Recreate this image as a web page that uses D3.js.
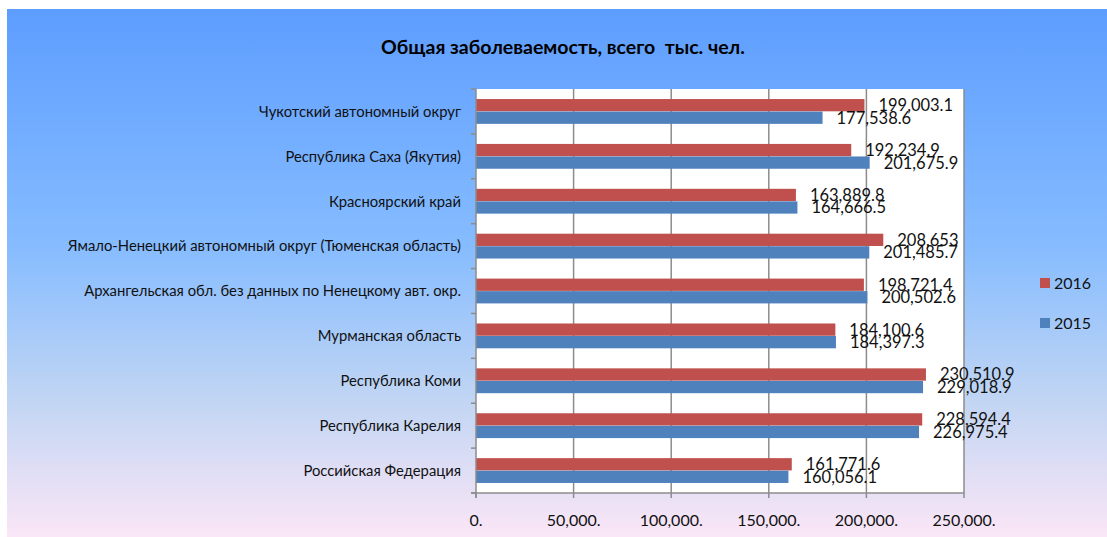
<!DOCTYPE html>
<html>
<head>
<meta charset="utf-8">
<script src="https://cdn.jsdelivr.net/npm/d3@7"></script>
<style>
  body { margin: 0; background: #fff; }
  svg { display: block; font-family: Lato, "Open Sans", sans-serif; }
</style>
</head>
<body>
<div id="chart"></div>
<script>
var categories = [
    "Чукотский автономный округ",
    "Республика Саха (Якутия)",
    "Красноярский край",
    "Ямало-Ненецкий автономный округ (Тюменская область)",
    "Архангельская обл. без данных по Ненецкому авт. окр.",
    "Мурманская область",
    "Республика Коми",
    "Республика Карелия",
    "Российская Федерация"
];
var values2016 = [199003.1, 192234.9, 163889.8, 208653, 198721.4, 184100.6, 230510.9, 228594.4, 161771.6];
var values2015 = [177538.6, 201675.9, 164666.5, 201485.7, 200502.6, 184397.3, 229018.9, 226975.4, 160056.1];
var seriesNames = ["2016", "2015"];
var xTicks = [0, 50000, 100000, 150000, 200000, 250000];
var title = "Общая заболеваемость, всего  тыс. чел.";

var W = 1107, H = 537;
var colors = {"2016": "#c0504d", "2015": "#4f81bd"};

var svg = d3.select("#chart").append("svg")
    .attr("width", W)
    .attr("height", H);

// background gradient
var grad = svg.append("defs").append("linearGradient")
    .attr("id", "bg")
    .attr("x1", 0).attr("y1", 0).attr("x2", 0).attr("y2", 1);
grad.append("stop").attr("offset", "0%").attr("stop-color", "#5d9dff");
grad.append("stop").attr("offset", "45%").attr("stop-color", "#86bcff");
grad.append("stop").attr("offset", "75%").attr("stop-color", "#c3d6f3");
grad.append("stop").attr("offset", "100%").attr("stop-color", "#fbe6f7");

svg.append("rect")
    .attr("x", 7).attr("y", 9)
    .attr("width", W - 7).attr("height", H - 9)
    .attr("fill", "url(#bg)");

var plot = {left: 476, right: 964, top: 89, bottom: 493};

var x = d3.scaleLinear()
    .domain([0, 250000])
    .range([plot.left, plot.right]);

var y = d3.scaleBand()
    .domain(categories)
    .range([plot.top, plot.bottom]);

var inner = d3.scaleBand()
    .domain(seriesNames)
    .range([0, y.bandwidth()])
    .paddingOuter(0.8)
    .paddingInner(0.02);

// plot area
svg.append("rect")
    .attr("x", plot.left).attr("y", plot.top)
    .attr("width", plot.right - plot.left)
    .attr("height", plot.bottom - plot.top)
    .attr("fill", "#fff");

// gridlines
svg.append("g")
    .selectAll("line")
    .data(xTicks.slice(1))
    .enter().append("line")
    .attr("x1", d => x(d)).attr("x2", d => x(d))
    .attr("y1", plot.top).attr("y2", plot.bottom)
    .attr("stroke", "#8c8c8c")
    .attr("stroke-width", 1.5);

// bars
var groups = svg.append("g")
    .selectAll("g")
    .data(categories)
    .enter().append("g")
    .attr("transform", d => "translate(0," + y(d) + ")");

var rows = function (i) {
    return [
        {name: "2016", value: values2016[i]},
        {name: "2015", value: values2015[i]}
    ];
};

groups.selectAll("rect")
    .data((d, i) => rows(i))
    .enter().append("rect")
    .attr("x", x(0))
    .attr("y", d => inner(d.name))
    .attr("width", d => x(d.value) - x(0))
    .attr("height", inner.bandwidth())
    .attr("fill", d => colors[d.name]);

var fmtVal = d3.format(",.1f");
var fmtLabel = function (v) {
    var s = fmtVal(v);
    return s.replace(/\.0$/, "");
};

groups.selectAll("text")
    .data((d, i) => rows(i))
    .enter().append("text")
    .attr("x", d => x(d.value) + 14)
    .attr("y", d => inner(d.name) + inner.bandwidth() / 2)
    .attr("dy", "0.36em")
    .attr("font-size", 16.5)
    .attr("fill", "#111")
    .text(d => fmtLabel(d.value));

// y axis
var yAxis = svg.append("g");
yAxis.append("line")
    .attr("x1", plot.left).attr("x2", plot.left)
    .attr("y1", plot.top).attr("y2", plot.bottom + 5)
    .attr("stroke", "#8c8c8c").attr("stroke-width", 1.5);
yAxis.selectAll(".tick")
    .data(categories.map(c => y(c)).concat([plot.bottom]))
    .enter().append("line")
    .attr("x1", plot.left - 5).attr("x2", plot.left)
    .attr("y1", d => d).attr("y2", d => d)
    .attr("stroke", "#8c8c8c").attr("stroke-width", 1.5);
yAxis.selectAll("text")
    .data(categories)
    .enter().append("text")
    .attr("x", plot.left - 15)
    .attr("y", d => y(d) + y.bandwidth() / 2)
    .attr("dy", "0.36em")
    .attr("text-anchor", "end")
    .attr("font-size", 14.8)
    .attr("fill", "#111")
    .text(d => d);

// x axis
var xAxis = svg.append("g");
xAxis.append("line")
    .attr("x1", plot.left - 5).attr("x2", plot.right)
    .attr("y1", plot.bottom).attr("y2", plot.bottom)
    .attr("stroke", "#8c8c8c").attr("stroke-width", 1.5);
xAxis.selectAll(".tick")
    .data(xTicks)
    .enter().append("line")
    .attr("x1", d => x(d)).attr("x2", d => x(d))
    .attr("y1", plot.bottom).attr("y2", plot.bottom + 5)
    .attr("stroke", "#8c8c8c").attr("stroke-width", 1.5);
var fmtTick = d3.format(",");
xAxis.selectAll("text")
    .data(xTicks)
    .enter().append("text")
    .attr("x", d => x(d))
    .attr("y", 520)
    .attr("dy", "0.36em")
    .attr("text-anchor", "middle")
    .attr("font-size", 16)
    .attr("fill", "#111")
    .text(d => fmtTick(d) + ".");

// title
svg.append("text")
    .attr("x", 563)
    .attr("y", 47)
    .attr("dy", "0.36em")
    .attr("text-anchor", "middle")
    .attr("font-size", 19.5)
    .attr("font-weight", "bold")
    .attr("fill", "#000")
    .style("white-space", "pre")
    .text(title);

// legend
var legend = svg.append("g")
    .selectAll("g")
    .data(seriesNames)
    .enter().append("g")
    .attr("transform", (d, i) => "translate(1040," + (278 + i * 40) + ")");
legend.append("rect")
    .attr("width", 10).attr("height", 10)
    .attr("fill", d => colors[d]);
legend.append("text")
    .attr("x", 14).attr("y", 5)
    .attr("dy", "0.36em")
    .attr("font-size", 16)
    .attr("fill", "#111")
    .text(d => d);
</script>
</body>
</html>
